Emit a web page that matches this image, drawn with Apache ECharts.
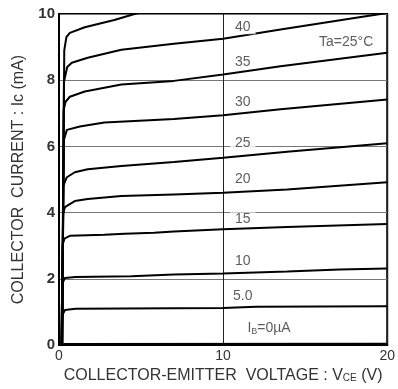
<!DOCTYPE html>
<html>
<head>
<meta charset="utf-8">
<script src="https://cdn.jsdelivr.net/npm/echarts@6/dist/echarts.min.js"></script>
<style>
html,body{margin:0;padding:0;background:#fff;}
#chart{width:398px;height:389px;}
</style>
</head>
<body>
<div id="chart"></div>
<script>
// Base current (µA) of each curve
const ibValues = [0, 5, 10, 15, 20, 25, 30, 35, 40, 45];
// Collector current curves: [Vce (V), Ic (mA)]
const curve0  = [[0.15,0],[0.3,0.03],[20,0.04]];
const curve5  = [[0.15,0],[0.2,0.9],[0.36,1.06],[1,1.1],[10,1.12],[12,1.16],[20,1.17]];
const curve10 = [[0.15,0],[0.2,1.85],[0.36,2.03],[1,2.06],[4.4,2.08],[7,2.13],[10,2.16],[13.9,2.22],[17.1,2.28],[20,2.31]];
const curve15 = [[0.15,0],[0.22,3.05],[0.35,3.22],[0.66,3.3],[2.77,3.33],[4,3.36],[5.8,3.39],[7,3.43],[10,3.5],[13.9,3.57],[20,3.66]];
const curve20 = [[0.15,0],[0.25,3.95],[0.36,4.17],[0.96,4.35],[1.75,4.41],[3.8,4.5],[7,4.55],[10,4.6],[13.9,4.7],[20,4.92]];
const curve25 = [[0.18,0],[0.25,4.8],[0.48,5.07],[0.96,5.22],[1.75,5.31],[3.8,5.41],[7,5.53],[10,5.66],[13.9,5.84],[20,6.1]];
const curve30 = [[0.18,0],[0.3,6.2],[0.48,6.5],[1.27,6.6],[2.77,6.72],[5.8,6.8],[7,6.83],[10,6.94],[13.5,7.12],[20,7.42]];
const curve35 = [[0.2,0],[0.28,7.1],[0.4,7.35],[0.66,7.5],[1.57,7.66],[3.8,7.87],[7,7.98],[10,8.17],[13.5,8.42],[20,8.83]];
const curve40 = [[0.2,0],[0.3,7.95],[0.5,8.4],[0.78,8.53],[1.75,8.68],[3.8,8.92],[7,9.1],[10,9.25],[13.5,9.53],[18.3,9.9],[20,10.03]];
const curve45 = [[0.2,0],[0.32,8.9],[0.45,9.3],[0.66,9.43],[1.57,9.6],[3.37,9.82],[4.6,10.0],[6,10.15]];
const curves = [curve0, curve5, curve10, curve15, curve20, curve25, curve30, curve35, curve40, curve45];

// Annotation labels
const labelTexts = ['40','35','30','25','20','15','10','5.0','I{s|B}=0µA','Ta=25°C'];
const labelX = [11.2, 11.2, 11.2, 11.2, 11.2, 11.2, 11.2, 11.2, 12.8, 17.5];
const labelY = [9.6, 8.56, 7.33, 6.1, 5.0, 3.8, 2.55, 1.47, 0.51, 9.16];

// Axis ticks
const xTicks = [0, 10, 20];
const yTicks = [0, 2, 4, 6, 8, 10];

const FONT = '"Liberation Sans", Arial, sans-serif';
const chart = echarts.init(document.getElementById('chart'), null, {renderer: 'canvas'});

const series = curves.map((c, i) => ({
  type: 'line',
  name: 'IB=' + ibValues[i],
  data: c,
  showSymbol: false,
  symbol: 'none',
  clip: true,
  lineStyle: {color: '#000', width: 2},
  z: 3
}));

series.push({
  type: 'scatter',
  data: labelTexts.map((t, i) => [labelX[i], labelY[i], t]),
  symbolSize: 0,
  silent: true,
  z: 5,
  label: {
    show: true,
    position: 'inside',
    formatter: p => p.data[2],
    color: '#333',
    fontSize: 14,
    fontFamily: FONT,
    backgroundColor: '#fff',
    padding: [0, 5],
    rich: {
      s: {fontSize: 9, fontFamily: FONT, color: '#333', padding: [6, 0, 0, 0]}
    }
  }
});

chart.setOption({
  animation: false,
  backgroundColor: '#fff',
  grid: {left: 59, right: 7, top: 14, bottom: 42, show: true, borderColor: '#000', borderWidth: 2, backgroundColor: 'transparent'},
  xAxis: {
    type: 'value', min: xTicks[0], max: xTicks[xTicks.length - 1], interval: 10,
    axisLine: {show: true, onZero: false, lineStyle: {color: '#000', width: 2}},
    axisTick: {show: false},
    splitLine: {show: true, lineStyle: {color: '#222', width: 1}},
    axisLabel: {color: '#333', fontSize: 14, fontFamily: FONT, margin: 4, showMaxLabel: true, showMinLabel: true},
    name: '{a|COLLECTOR-EMITTER  VOLTAGE : V}{s|CE}{a| (V)}',
    nameLocation: 'middle',
    nameGap: 20,
    nameTextStyle: {
      rich: {
        a: {fontSize: 16, fontFamily: FONT, color: '#333'},
        s: {fontSize: 10, fontFamily: FONT, color: '#333', padding: [5, 0, 0, 0]}
      }
    }
  },
  yAxis: {
    type: 'value', min: yTicks[0], max: yTicks[yTicks.length - 1], interval: 2,
    axisLine: {show: true, onZero: false, lineStyle: {color: '#000', width: 2}},
    axisTick: {show: false},
    splitLine: {show: true, lineStyle: {color: '#777', width: 1}},
    axisLabel: {color: '#333', fontSize: 15, fontWeight: 'bold', fontFamily: FONT, margin: 4},
    name: 'COLLECTOR  CURRENT : Ic (mA)',
    nameLocation: 'middle',
    nameGap: 32,
    nameTextStyle: {fontSize: 16, fontFamily: FONT, color: '#333'}
  },
  series: series
});
</script>
</body>
</html>
